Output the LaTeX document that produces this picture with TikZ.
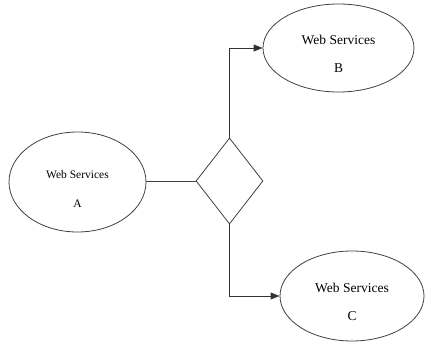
\documentclass[tikz,border=0pt]{standalone}
\usepackage{fontspec}
\setmainfont{Liberation Serif}
\usetikzlibrary{shapes.geometric,arrows.meta}

\tikzset{%
  every service/.style={
    ellipse,
    draw=black!75,
    line width=0.8pt,
    inner sep=0pt,
    align=center,
    font=\fontsize{13.5}{28}\selectfont
  },
  service a/.style={
    minimum width=137pt,
    minimum height=100pt,
    font=\fontsize{11.5}{29}\selectfont
  },
  service b/.style={
    minimum width=151pt,
    minimum height=88pt
  },
  service c/.style={
    minimum width=144pt,
    minimum height=90pt
  },
  decision/.style={
    diamond,
    draw=black!75,
    line width=0.8pt,
    inner sep=0pt,
    minimum width=67pt,
    minimum height=86pt
  },
}

\begin{document}
\begin{tikzpicture}[x=1pt, y=-1pt, >={Triangle[length=9pt,width=7pt]}]
\useasboundingbox (0,0) rectangle (426,342);

% the strut pushes the two lines a little below the centre
\foreach \m/\l/\px/\py in {a/A/77.5/182, b/B/338.5/48, c/C/352/296}
  \node [every service/.try, service \m/.try] (service-\m) at (\px,\py)
    {\rule{0pt}{22pt}Web Services\\\l};

\node [decision] (choice) at (229.5,181) {};

\draw [line width=0.8pt, black!75] (service-a.east |- choice.west) -- (choice.west);

\foreach \m in {b,c}
  \draw [->, line width=0.8pt, black!80] (choice) |- (service-\m.west);

\end{tikzpicture}
\end{document}
